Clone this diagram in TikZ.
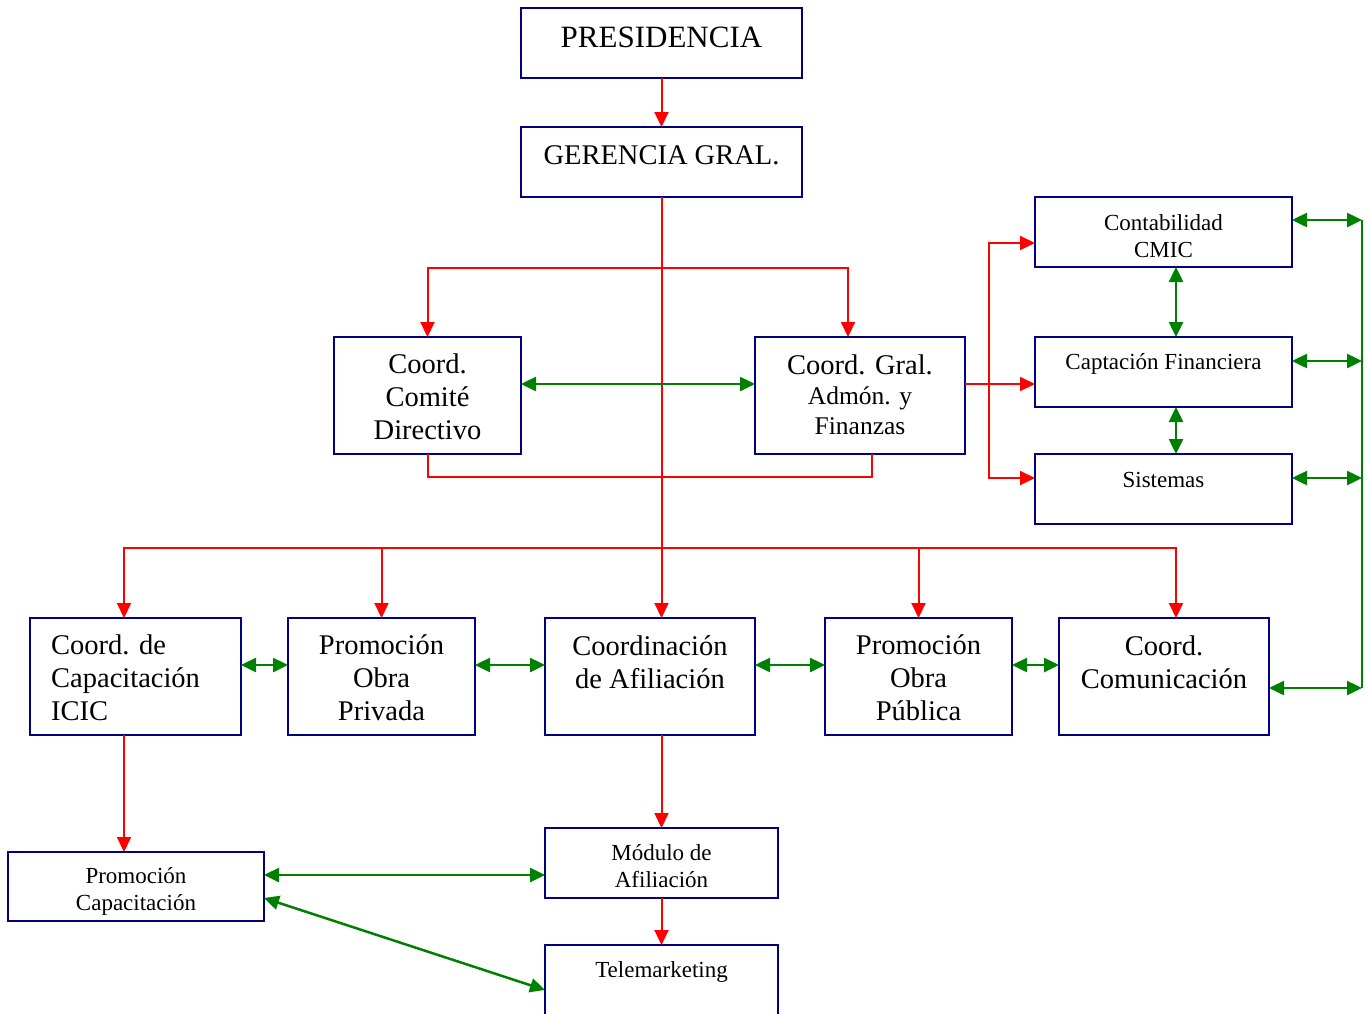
\documentclass[tikz,border=0pt]{standalone}
\usepackage{fontspec}
\setmainfont{Liberation Serif}
\usetikzlibrary{arrows.meta}
\definecolor{boxblue}{RGB}{0,0,128}
\definecolor{linkgreen}{RGB}{0,128,0}
\begin{document}
\begin{tikzpicture}[x=1pt,y=-1pt,
  box/.style={draw=boxblue, line width=2pt, rectangle, inner sep=0pt, outer sep=0pt},
  big/.style={font=\fontsize{28.5}{33}\selectfont, align=center, inner sep=0pt},
  small/.style={font=\fontsize{23}{27}\selectfont, align=center, inner sep=0pt},
  rl/.style={draw=red, line width=2pt},
  gl/.style={draw=linkgreen, line width=2.5pt},
  >={Triangle[length=15pt,width=14pt]}]
\fill[white] (0,0) rectangle (1369,1013);
\useasboundingbox (0,0) rectangle (1369,1013);

% boxes
\node[box, minimum width=281pt, minimum height=70pt] (pres) at (661.5,43) {};
\node[box, minimum width=281pt, minimum height=70pt] (ger) at (661.5,162) {};
\node[box, minimum width=187pt, minimum height=117pt] (comite) at (427.5,395.5) {};
\node[box, minimum width=210pt, minimum height=117pt] (gral) at (860,395.5) {};
\node[box, minimum width=257pt, minimum height=70pt] (conta) at (1163.5,232) {};
\node[box, minimum width=257pt, minimum height=70pt] (capt) at (1163.5,372) {};
\node[box, minimum width=257pt, minimum height=70pt] (sist) at (1163.5,489) {};
\node[box, minimum width=211pt, minimum height=117pt] (cap) at (135.5,676.5) {};
\node[box, minimum width=187pt, minimum height=117pt] (priv) at (381.5,676.5) {};
\node[box, minimum width=210pt, minimum height=117pt] (afil) at (650,676.5) {};
\node[box, minimum width=187pt, minimum height=117pt] (pub) at (918.5,676.5) {};
\node[box, minimum width=210pt, minimum height=117pt] (com) at (1164,676.5) {};
\node[box, minimum width=256pt, minimum height=69pt] (pcap) at (136,886.5) {};
\node[box, minimum width=233pt, minimum height=70pt] (mod) at (661.5,863) {};
\node[box, minimum width=233pt, minimum height=75pt] (tele) at (661.5,982.5) {};

% box texts
\node[big, font=\fontsize{31}{36}\selectfont] (tpres) at (661.5,37) {PRESIDENCIA};
\node[big] (tger) at (661.5,155) {GERENCIA GRAL.};
\node[big] (tcomite) at (427.5,397) {Coord.\\Comité\\Directivo};
\node[big, font=\fontsize{25.5}{30}\selectfont] (tgral) at (860,395) {{\fontsize{28.5}{33}\selectfont Coord. Gral.}\\Admón. y\\Finanzas};
\node[small] (tconta) at (1163.5,236) {Contabilidad\\CMIC};
\node[small] (tcapt) at (1163.5,364) {Captación Financiera};
\node[small] (tsist) at (1163.5,480) {Sistemas};
\node[big, align=left, anchor=west] (tcap) at (51,678) {Coord. de\\Capacitación\\ICIC};
\node[big] (tpriv) at (381.5,678) {Promoción\\Obra\\Privada};
\node[big] (tafil) at (650,662) {Coordinación\\de Afiliación};
\node[big] (tpub) at (918.5,678) {Promoción\\Obra\\Pública};
\node[big] (tcom) at (1164,662) {Coord.\\Comunicación};
\node[small] (tpcap) at (136,891.5) {Promoción\\Capacitación};
\node[small] (tmod) at (661.5,866) {Módulo de\\Afiliación};
\node[small] (ttele) at (661.5,972) {Telemarketing};

% connector rows and bends
\coordinate (topbus) at (848,268);
\coordinate (joinr) at (872,477);
\coordinate (busl) at (124,548);
\coordinate (busr) at (1176,548);
\coordinate (r1) at (989,243);
\coordinate (r2) at (989,384);
\coordinate (r3) at (989,478);
\coordinate (gv) at (1176,300);
\coordinate (g1) at (1362,220);
\coordinate (g2) at (1362,361);
\coordinate (g3) at (1362,478);
\coordinate (g4) at (1362,688);
\coordinate (grow) at (0,665);
\coordinate (gp) at (0,875);
\coordinate (gd1) at (0,898);
\coordinate (gd2) at (0,990);

% reporting lines
\draw[rl,->] (pres.south) -- (ger.north);
\draw[rl,->] (ger.south) -- (ger.south |- afil.north);
\draw[rl,<->] (comite.north) |- (topbus) -- (topbus |- gral.north);
\draw[rl] (comite.south) |- (joinr) -- (joinr |- gral.south);
\draw[rl,<->] (busl |- cap.north) -- (busl) -- (busr) -- (busr |- com.north);
\draw[rl,->] (priv.north |- busl) -- (priv.north);
\draw[rl,->] (pub.north |- busl) -- (pub.north);
\draw[rl,->] (busl |- cap.south) -- (busl |- pcap.north);
\draw[rl,->] (mod.north |- afil.south) -- (mod.north);
\draw[rl,->] (mod.south) -- (tele.north);
\draw[rl,<->] (conta.west |- r1) -| (r3) -- (sist.west |- r3);
\draw[rl,->] (gral.east |- r2) -- (capt.west |- r2);

% coordination links
\draw[gl,<->] (comite.east |- r2) -- (gral.west |- r2);
\draw[gl,<->] (conta.south -| gv) -- (capt.north -| gv);
\draw[gl,<->] (capt.south -| gv) -- (sist.north -| gv);
\draw[gl] (g1) -- (g4);
\draw[gl,<->] (conta.east |- g1) -- (g1);
\draw[gl,<->] (capt.east |- g2) -- (g2);
\draw[gl,<->] (sist.east |- g3) -- (g3);
\draw[gl,<->] (com.east |- g4) -- (g4);
\draw[gl,<->] (cap.east |- grow) -- (priv.west |- grow);
\draw[gl,<->] (priv.east |- grow) -- (afil.west |- grow);
\draw[gl,<->] (afil.east |- grow) -- (pub.west |- grow);
\draw[gl,<->] (pub.east |- grow) -- (com.west |- grow);
\draw[gl,<->] (pcap.east |- gp) -- (mod.west |- gp);
\draw[gl,<->] (pcap.east |- gd1) -- (tele.west |- gd2);
\end{tikzpicture}
\end{document}
